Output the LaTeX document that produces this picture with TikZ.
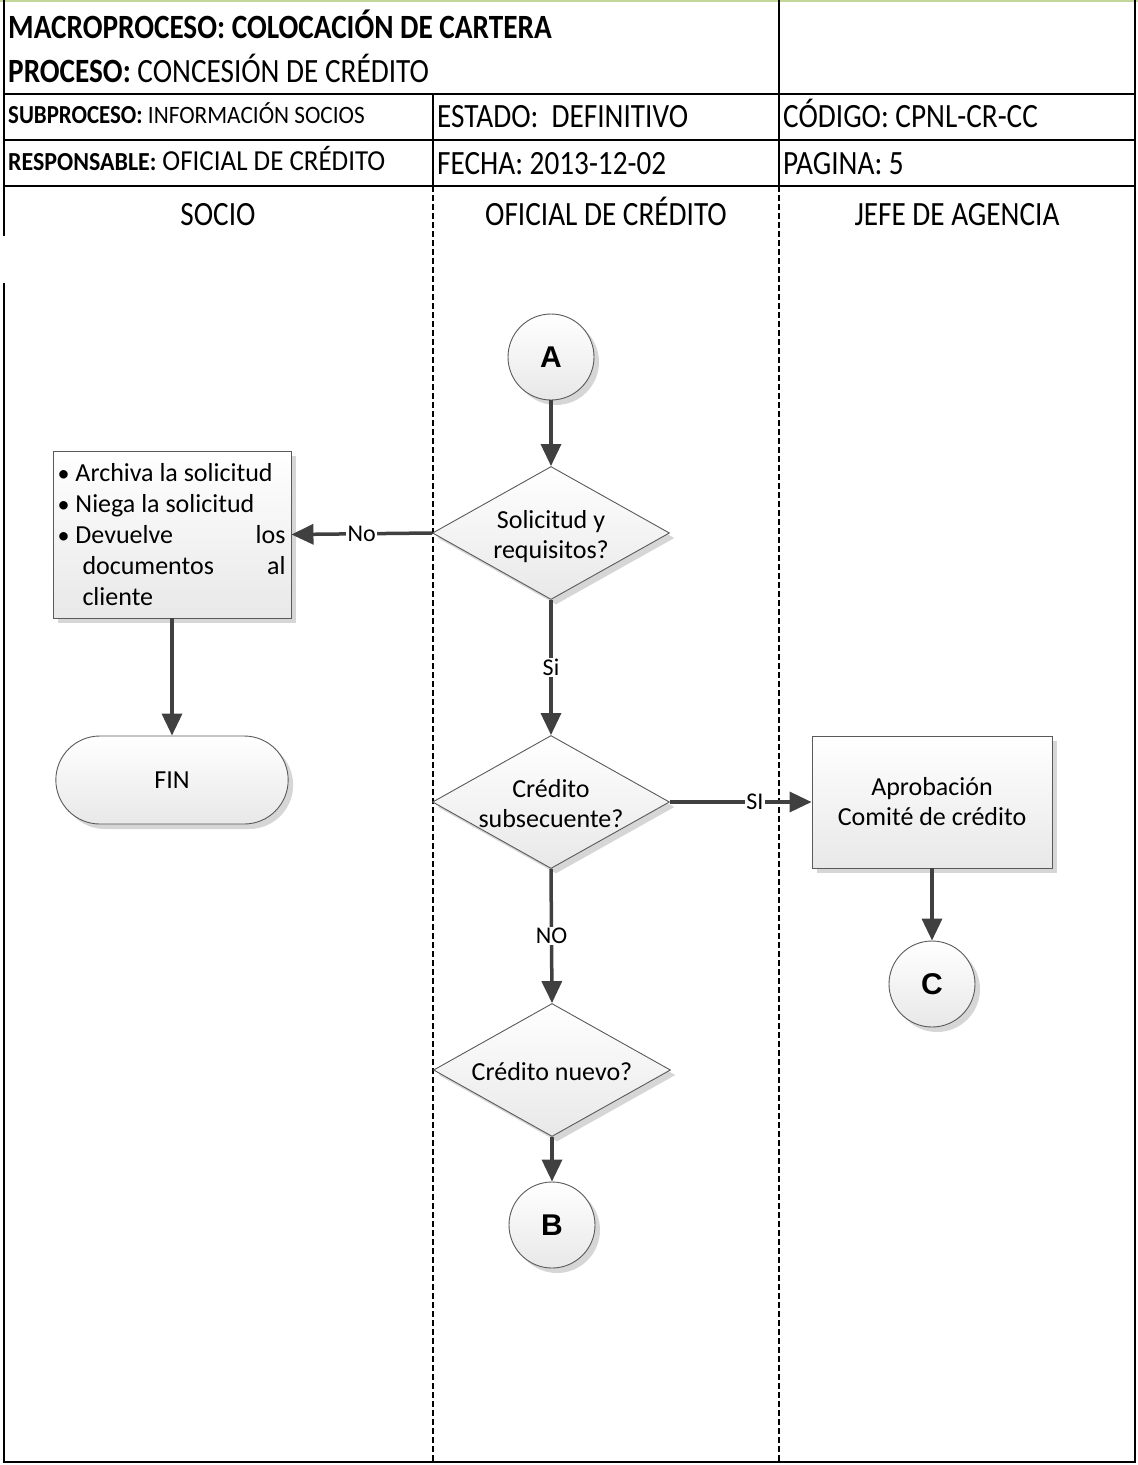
\documentclass[tikz,border=0pt]{standalone}
\usepackage{fontspec}
\setmainfont{Carlito}
\newfontfamily\lettfont{Liberation Sans}
\usetikzlibrary{arrows.meta,shapes.geometric,shapes.misc,shadows}

% horizontally condensed header text
\newcommand{\hsq}[2][0.86]{\scalebox{#1}[1]{#2}}
% zero-size centred text block, so a shape keeps its own minimum size
\newcommand{\zcenter}[1]{\smash{\makebox[0pt]{\raisebox{-0.4em}{\begin{tabular}{@{}c@{}}#1\end{tabular}}}}}
% bullet mark with its indent
\newcommand{\bulmark}{\makebox[17pt][l]{\kern-1pt\fontsize{24}{24}\selectfont\textbullet}}
% one line of the bullet box, full width
\newcommand{\bline}[1]{\makebox[227pt][l]{#1}}

\definecolor{flowgray}{HTML}{404040}
\definecolor{edgegray}{HTML}{5A5A5A}
\definecolor{topgreen}{HTML}{C4D79B}

\tikzset{
  frame/.style={line width=2.5pt, black},
  lanesep/.style={line width=2.5pt, black, dash pattern=on 6pt off 3pt},
  hdr/.style={anchor=base west, inner sep=0pt},
  bigtxt/.style={font=\fontsize{34}{40}\selectfont},
  lanehdr/.style={anchor=base, inner sep=0pt, bigtxt},
  shade3d/.style={draw=edgegray, line width=0.9pt, top color=white, bottom color=black!9,
    drop shadow={shadow xshift=5pt, shadow yshift=-5pt, fill=black!16, opacity=1}},
  proc/.style={shade3d, rectangle, minimum width=240pt, minimum height=132pt,
    align=center, font=\fontsize{26}{30}\selectfont},
  decision/.style={shade3d, diamond, minimum width=237pt, minimum height=133pt,
    inner sep=0pt, font=\fontsize{26}{30}\selectfont},
  connector/.style={shade3d, circle, minimum size=86pt, inner sep=0pt,
    font=\lettfont\bfseries\fontsize{30}{30}\selectfont},
  terminal/.style={shade3d, rounded rectangle, minimum width=239pt, minimum height=88pt,
    font=\fontsize{26}{30}\selectfont},
  flow/.style={draw=flowgray, line width=3.5pt, -{Triangle[length=22pt,width=20pt]}},
  flowlabel/.style={fill=white, inner sep=1.5pt, font=\fontsize{24}{28}\selectfont}
}

\begin{document}
\begin{tikzpicture}[x=1pt, y=-1pt]
\useasboundingbox (0,0) rectangle (1138,1465);

% ---- page frame and header grid ----
\draw[topgreen, line width=2pt] (0,1) -- (1138,1);
\draw[frame] (4,0) -- (4,236);
\draw[frame] (4,283) -- (4,1462) -- (1135,1462) -- (1135,0);
\draw[frame] (779,0) -- (779,186);
\draw[frame] (4,94) -- (1135,94);
\draw[frame] (4,140) -- (1135,140);
\draw[frame] (4,186) -- (1135,186);
\draw[frame] (433,94) -- (433,186);
\draw[lanesep] (433,186) -- (433,1462);
\draw[lanesep] (779,186) -- (779,1462);

% ---- header texts ----
\node[hdr, bigtxt] (hmacro) at (8,38)
  {\hsq{\bfseries MACROPROCESO: COLOCACIÓN DE CARTERA}};
\node[hdr, bigtxt] (hproc) at (8,82)
  {\hsq{\textbf{PROCESO:} CONCESIÓN DE CRÉDITO}};
\node[hdr] (hsub) at (8,123)
  {\hsq[0.88]{\bfseries\fontsize{26}{30}\selectfont SUBPROCESO:}\hsq[0.93]{\fontsize{25}{30}\selectfont\ INFORMACIÓN SOCIOS}};
\node[hdr, bigtxt] (hestado) at (437,127)
  {\hsq{ESTADO:\ \ DEFINITIVO}};
\node[hdr, bigtxt] (hcodigo) at (783,127)
  {\hsq{CÓDIGO: CPNL-CR-CC}};
\node[hdr] (hresp) at (8,170)
  {\hsq[0.92]{\bfseries\fontsize{26}{30}\selectfont RESPONSABLE:}\hsq[0.93]{\fontsize{29}{34}\selectfont\ OFICIAL DE CRÉDITO}};
\node[hdr, bigtxt] (hfecha) at (437,174)
  {\hsq{FECHA: 2013-12-02}};
\node[hdr, bigtxt] (hpag) at (783,174)
  {\hsq{PAGINA: 5}};

% ---- lane titles ----
\node[lanehdr] (lsocio) at (218,225) {\hsq{SOCIO}};
\node[lanehdr] (loficial) at (606,225) {\hsq{OFICIAL DE CRÉDITO}};
\node[lanehdr] (ljefe) at (957,225) {\hsq{JEFE DE AGENCIA}};

% ---- flow nodes ----
\node[connector] (ca) at (551,357) {A};
\node[decision] (d1) at (551,533) {\zcenter{Solicitud y\\requisitos?}};
\node[shade3d, rectangle, minimum width=238pt, minimum height=167pt,
      inner xsep=3pt, inner ysep=0pt, align=left,
      font=\fontsize{26}{31}\selectfont] (rej) at (172,534.5)
  {\bline{\bulmark Archiva la solicitud}\\
   \bline{\bulmark Niega la solicitud}\\
   \bline{\bulmark Devuelve\hfill los}\\
   \bline{\hspace*{24pt}documentos\hfill al}\\
   \bline{\hspace*{24pt}cliente}};
\node[terminal] (fin) at (172,780) {FIN};
\node[decision] (d2) at (551,802) {\zcenter{Crédito\\subsecuente?}};
\node[proc] (apr) at (932,802) {Aprobación\\Comité de crédito};
\node[connector] (cc) at (932,984) {C};
\node[decision] (d3) at (552,1070) {\zcenter{Crédito nuevo?}};
\node[connector] (cb) at (552,1225) {B};

% ---- connectors ----
\draw[flow] (ca.south) -- (d1.north);
\draw[flow] (d1.west) -- node[flowlabel] {No} (rej.east);
\draw[flow] (rej.south) -- (fin.north);
\draw[flow] (d1.south) -- node[flowlabel] {Si} (d2.north);
\draw[flow] (d2.east) -- node[flowlabel, pos=0.6] {SI} (apr.west);
\draw[flow] (apr.south) -- (cc.north);
\draw[flow] (d2.south) -- node[flowlabel] {NO} (d3.north);
\draw[flow] (d3.south) -- (cb.north);
\end{tikzpicture}
\end{document}
